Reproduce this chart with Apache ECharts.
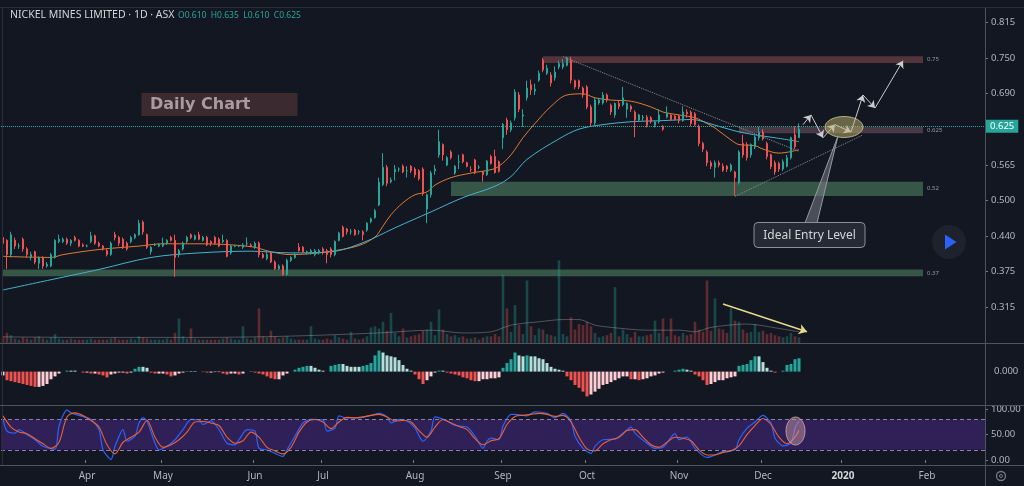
<!DOCTYPE html>
<html>
<head>
<meta charset="utf-8">
<title>NICKEL MINES LIMITED 1D ASX</title>
<script src="https://cdn.jsdelivr.net/npm/echarts@6/dist/echarts.min.js"></script>
<style>
    html, body { margin: 0; padding: 0; background: #131722; }
    #chart { width: 1024px; height: 486px; }
</style>
</head>
<body>
<div id="chart"></div>
<script>
// 月份 + 每月日线根数（含右侧留白的未来日期）
const monthSlots = [['Mar', 21], ['Apr', 19], ['May', 23], ['Jun', 17], ['Jul', 23], ['Aug', 22],
    ['Sep', 21], ['Oct', 23], ['Nov', 21], ['Dec', 20], ['2020', 21], ['Feb', 15]];

// 日线 [open, high, low, close]
const ohlc = [
    // Mar
    [0.435, 0.440, 0.420, 0.425], [0.430, 0.432, 0.380, 0.405], [0.405, 0.445, 0.400, 0.440], [0.430, 0.435, 0.415, 0.420],
    [0.420, 0.425, 0.415, 0.420], [0.432, 0.435, 0.410, 0.415], [0.415, 0.418, 0.400, 0.405], [0.400, 0.410, 0.395, 0.405],
    [0.410, 0.412, 0.388, 0.392], [0.390, 0.402, 0.380, 0.400], [0.400, 0.402, 0.380, 0.385], [0.385, 0.392, 0.382, 0.388],
    [0.385, 0.408, 0.383, 0.405], [0.400, 0.432, 0.398, 0.430], [0.428, 0.440, 0.425, 0.432], [0.428, 0.435, 0.425, 0.432],
    [0.432, 0.435, 0.422, 0.425], [0.425, 0.432, 0.420, 0.430], [0.435, 0.438, 0.428, 0.430], [0.430, 0.432, 0.418, 0.420],
    [0.422, 0.425, 0.418, 0.420],
    // Apr
    [0.420, 0.423, 0.418, 0.420], [0.428, 0.445, 0.425, 0.438], [0.438, 0.440, 0.422, 0.425], [0.425, 0.428, 0.418, 0.420],
    [0.420, 0.422, 0.412, 0.415], [0.412, 0.415, 0.402, 0.405], [0.405, 0.428, 0.403, 0.425], [0.440, 0.445, 0.430, 0.435],
    [0.435, 0.438, 0.420, 0.425], [0.432, 0.435, 0.415, 0.418], [0.425, 0.428, 0.412, 0.415], [0.428, 0.438, 0.425, 0.435],
    [0.435, 0.442, 0.432, 0.440], [0.440, 0.466, 0.438, 0.460], [0.462, 0.465, 0.440, 0.445], [0.440, 0.442, 0.415, 0.418],
    [0.410, 0.420, 0.405, 0.418], [0.422, 0.425, 0.420, 0.422], [0.420, 0.425, 0.418, 0.423],
    // May
    [0.420, 0.435, 0.418, 0.425], [0.425, 0.432, 0.422, 0.430], [0.435, 0.438, 0.428, 0.430], [0.430, 0.440, 0.366, 0.400],
    [0.405, 0.415, 0.400, 0.412], [0.415, 0.428, 0.412, 0.425], [0.428, 0.438, 0.425, 0.435], [0.440, 0.442, 0.432, 0.435],
    [0.432, 0.440, 0.430, 0.438], [0.440, 0.445, 0.430, 0.432], [0.430, 0.438, 0.428, 0.435], [0.435, 0.438, 0.420, 0.422],
    [0.428, 0.430, 0.420, 0.425], [0.435, 0.438, 0.422, 0.425], [0.432, 0.435, 0.418, 0.420], [0.428, 0.440, 0.425, 0.430],
    [0.430, 0.432, 0.400, 0.402], [0.408, 0.422, 0.405, 0.420], [0.420, 0.422, 0.418, 0.420], [0.420, 0.422, 0.418, 0.420],
    [0.418, 0.425, 0.415, 0.422], [0.425, 0.435, 0.420, 0.425], [0.422, 0.425, 0.418, 0.420],
    // Jun
    [0.418, 0.428, 0.415, 0.425], [0.425, 0.428, 0.400, 0.405], [0.405, 0.408, 0.398, 0.400], [0.398, 0.410, 0.395, 0.405],
    [0.408, 0.410, 0.390, 0.392], [0.392, 0.395, 0.378, 0.380], [0.380, 0.388, 0.378, 0.385], [0.385, 0.388, 0.368, 0.370],
    [0.370, 0.398, 0.368, 0.395], [0.395, 0.402, 0.392, 0.400], [0.400, 0.408, 0.398, 0.405], [0.418, 0.425, 0.410, 0.412],
    [0.418, 0.420, 0.408, 0.410], [0.410, 0.412, 0.405, 0.410], [0.408, 0.415, 0.405, 0.412], [0.405, 0.415, 0.402, 0.412],
    [0.408, 0.415, 0.405, 0.412],
    // Jul
    [0.415, 0.418, 0.405, 0.410], [0.412, 0.415, 0.390, 0.405], [0.415, 0.418, 0.400, 0.405], [0.405, 0.430, 0.402, 0.428],
    [0.430, 0.445, 0.428, 0.443], [0.453, 0.456, 0.435, 0.437], [0.450, 0.452, 0.440, 0.445], [0.445, 0.450, 0.440, 0.445],
    [0.448, 0.450, 0.438, 0.440], [0.445, 0.448, 0.440, 0.445], [0.445, 0.448, 0.430, 0.440], [0.448, 0.462, 0.445, 0.460],
    [0.463, 0.470, 0.460, 0.468], [0.470, 0.485, 0.468, 0.482], [0.492, 0.540, 0.490, 0.532], [0.528, 0.583, 0.525, 0.558],
    [0.558, 0.562, 0.525, 0.530], [0.533, 0.540, 0.530, 0.536], [0.550, 0.562, 0.535, 0.555], [0.555, 0.558, 0.550, 0.555],
    [0.560, 0.563, 0.548, 0.550], [0.552, 0.560, 0.540, 0.552], [0.560, 0.562, 0.548, 0.552],
    // Aug
    [0.555, 0.558, 0.540, 0.545], [0.552, 0.555, 0.535, 0.538], [0.555, 0.558, 0.508, 0.512], [0.485, 0.512, 0.460, 0.510],
    [0.510, 0.552, 0.505, 0.548], [0.552, 0.562, 0.545, 0.555], [0.580, 0.624, 0.575, 0.603], [0.598, 0.600, 0.570, 0.580],
    [0.562, 0.578, 0.560, 0.575], [0.585, 0.588, 0.572, 0.575], [0.548, 0.562, 0.545, 0.560], [0.568, 0.580, 0.555, 0.568],
    [0.580, 0.582, 0.565, 0.568], [0.566, 0.568, 0.558, 0.560], [0.554, 0.560, 0.550, 0.554], [0.571, 0.573, 0.546, 0.548],
    [0.558, 0.562, 0.555, 0.558], [0.550, 0.552, 0.533, 0.545], [0.545, 0.571, 0.543, 0.569], [0.577, 0.580, 0.563, 0.565],
    [0.577, 0.589, 0.547, 0.549], [0.568, 0.570, 0.549, 0.551],
    // Sep
    [0.610, 0.636, 0.590, 0.633], [0.641, 0.645, 0.615, 0.624], [0.624, 0.640, 0.620, 0.636], [0.645, 0.695, 0.640, 0.690],
    [0.685, 0.690, 0.655, 0.660], [0.648, 0.660, 0.629, 0.650], [0.680, 0.710, 0.675, 0.697], [0.703, 0.712, 0.685, 0.694],
    [0.692, 0.705, 0.685, 0.695], [0.711, 0.728, 0.708, 0.723], [0.746, 0.750, 0.725, 0.729], [0.723, 0.738, 0.720, 0.732],
    [0.720, 0.725, 0.700, 0.706], [0.715, 0.735, 0.710, 0.725], [0.734, 0.745, 0.730, 0.740], [0.734, 0.748, 0.730, 0.740],
    [0.737, 0.752, 0.735, 0.750], [0.746, 0.752, 0.705, 0.711], [0.710, 0.712, 0.695, 0.699], [0.710, 0.712, 0.695, 0.699],
    [0.697, 0.700, 0.680, 0.685],
    // Oct
    [0.699, 0.702, 0.660, 0.664], [0.664, 0.668, 0.630, 0.636], [0.636, 0.680, 0.632, 0.676], [0.671, 0.680, 0.668, 0.676],
    [0.671, 0.690, 0.668, 0.685], [0.685, 0.688, 0.672, 0.676], [0.667, 0.670, 0.650, 0.655], [0.650, 0.672, 0.645, 0.670],
    [0.670, 0.675, 0.660, 0.665], [0.668, 0.699, 0.665, 0.680], [0.660, 0.672, 0.645, 0.670], [0.665, 0.668, 0.655, 0.660],
    [0.655, 0.658, 0.611, 0.641], [0.641, 0.652, 0.638, 0.650], [0.645, 0.650, 0.640, 0.646], [0.646, 0.650, 0.628, 0.632],
    [0.645, 0.648, 0.635, 0.638], [0.632, 0.640, 0.628, 0.638], [0.638, 0.660, 0.635, 0.650], [0.630, 0.632, 0.622, 0.625],
    [0.646, 0.665, 0.644, 0.653], [0.650, 0.652, 0.640, 0.642], [0.648, 0.650, 0.640, 0.642],
    // Nov
    [0.648, 0.650, 0.635, 0.640], [0.640, 0.665, 0.638, 0.655], [0.655, 0.660, 0.645, 0.652], [0.655, 0.658, 0.630, 0.635],
    [0.652, 0.655, 0.630, 0.633], [0.630, 0.633, 0.595, 0.600], [0.600, 0.603, 0.585, 0.590], [0.585, 0.588, 0.560, 0.566],
    [0.566, 0.570, 0.555, 0.560], [0.558, 0.570, 0.540, 0.566], [0.566, 0.570, 0.558, 0.562], [0.560, 0.565, 0.550, 0.553],
    [0.560, 0.562, 0.550, 0.555], [0.553, 0.565, 0.550, 0.562], [0.550, 0.552, 0.508, 0.540], [0.531, 0.588, 0.528, 0.585],
    [0.600, 0.615, 0.575, 0.580], [0.598, 0.602, 0.570, 0.575], [0.580, 0.600, 0.575, 0.598], [0.594, 0.614, 0.590, 0.611],
    [0.610, 0.629, 0.605, 0.620],
    // Dec
    [0.620, 0.625, 0.605, 0.608], [0.600, 0.603, 0.572, 0.577], [0.580, 0.582, 0.555, 0.559], [0.566, 0.570, 0.545, 0.550],
    [0.565, 0.568, 0.550, 0.555], [0.555, 0.572, 0.552, 0.568], [0.560, 0.580, 0.558, 0.575], [0.575, 0.612, 0.572, 0.610],
    [0.615, 0.630, 0.590, 0.594], [0.610, 0.635, 0.610, 0.625]
];

// 成交量（百万股）
const volume = [
    0.6, 0.9, 0.7, 0.4, 0.3, 0.5, 0.4, 0.3, 0.5, 0.6, 0.4, 0.3, 0.5, 0.8, 0.4, 0.3, 0.3, 0.4, 0.3, 0.3, 0.3,
    0.3, 0.4, 0.3, 0.3, 0.3, 0.3, 0.4, 0.5, 0.3, 0.3, 0.3, 0.4, 0.3, 0.6, 0.5, 0.4, 0.3, 0.3, 0.3,
    0.3, 0.4, 0.3, 0.9, 2.2, 0.6, 0.4, 1.3, 0.4, 0.3, 0.3, 0.3, 0.3, 0.3, 0.3, 0.4, 0.5, 0.4, 0.3, 0.3, 1.5, 0.4, 0.3,
    0.5, 3.1, 0.6, 0.5, 1.1, 0.6, 0.4, 0.5, 0.6, 0.4, 0.3, 0.3, 0.3, 0.3, 1.5, 0.4, 0.3,
    0.3, 0.4, 0.3, 0.7, 0.5, 0.4, 0.3, 1.0, 0.4, 0.3, 0.4, 0.6, 1.4, 1.5, 1.3, 1.9, 1.1, 2.7, 0.9, 0.6, 1.3, 0.5, 0.6,
    0.7, 0.8, 1.1, 1.2, 1.9, 0.7, 3.0, 1.2, 0.8, 0.6, 0.7, 0.5, 0.6, 0.4, 0.4, 0.5, 0.3, 0.5, 0.6, 0.6, 0.8, 0.6,
    6.1, 3.1, 1.0, 3.4, 1.6, 0.8, 5.6, 1.5, 0.7, 1.3, 1.2, 0.8, 0.7, 0.6, 7.4, 0.8, 0.6, 2.3, 1.2, 1.7, 1.6,
    1.9, 1.5, 0.9, 0.5, 0.6, 0.7, 0.9, 5.0, 0.6, 1.2, 0.8, 0.5, 1.0, 0.6, 0.6, 0.7, 0.8, 2.0, 0.9, 2.2, 0.6, 2.2, 0.7,
    0.6, 0.9, 0.7, 0.8, 1.9, 1.2, 1.0, 5.6, 1.1, 4.0, 1.3, 1.2, 0.9, 3.1, 2.0, 1.9, 1.2, 0.9, 1.0, 1.7, 1.0,
    1.1, 0.8, 0.9, 0.7, 0.6, 0.5, 0.6, 0.9, 0.6, 0.5
];
// 成交量均线 [index, value]
const volumeMa = [[0, 0.55], [20, 0.5], [49, 0.5], [70, 0.6], [94, 0.9], [107, 1.15], [115, 0.9], [122, 1.0],
    [127, 1.6], [134, 1.9], [140, 2.1], [144, 2.1], [148, 1.6], [152, 1.4], [161, 1.15], [169, 1.15], [173, 1.0],
    [177, 1.4], [186, 1.7], [194, 1.3], [199, 1.0]];

// 均线 [index, price]
const emaFast = [[0, 0.402], [12, 0.400], [15, 0.405], [24, 0.414], [34, 0.420], [40, 0.424], [49, 0.424],
    [62, 0.419], [67, 0.410], [72, 0.405], [79, 0.408], [83, 0.412], [89, 0.421], [93, 0.436], [95, 0.455],
    [97, 0.475], [100, 0.496], [103, 0.510], [106, 0.515], [108, 0.527], [112, 0.540], [117, 0.548], [122, 0.554],
    [124, 0.560], [127, 0.580], [130, 0.610], [133, 0.635], [137, 0.665], [141, 0.685], [145, 0.687], [148, 0.680],
    [152, 0.676], [157, 0.674], [162, 0.664], [165, 0.655], [169, 0.650], [173, 0.645], [176, 0.635], [178, 0.627],
    [182, 0.606], [184, 0.598], [188, 0.596], [190, 0.590], [194, 0.583], [199, 0.589]];
const emaSlow = [[0, 0.343], [12, 0.361], [24, 0.379], [37, 0.400], [49, 0.408], [62, 0.411], [72, 0.408],
    [82, 0.410], [90, 0.426], [98, 0.452], [107, 0.480], [115, 0.505], [123, 0.525], [127, 0.542], [131, 0.572],
    [139, 0.608], [144, 0.625], [150, 0.633], [157, 0.638], [165, 0.640], [172, 0.642], [178, 0.632], [183, 0.622],
    [188, 0.615], [193, 0.610], [199, 0.603]];

// MACD 柱（千分之一）
const macdHist = [
    -4, -9, -10, -11, -12, -13, -14, -15, -16, -16, -15, -13, -8, -5, -2,
    0, 1, 1, 1, 0,
    -1, -1, -2, -2, -3, -4, -6, -3, -2, -1, -1, -2, -1,
    3, 5, 5, 4,
    -1, -2, -2, -2, -3, -5, -4, -2, -1,
    0.5, 0.5, 0.5, 0,
    -0.5, -1, -1, -0.5, -0.5,
    -2, -3, -2, -2, -3, -2,
    0, 0.5,
    -1, -2, -3, -5, -7, -8, -8, -4, -2,
    0, 2, 4, 5, 6, 6, 4, 2, 1, 0,
    6, 7, 8, 8, 6, 5, 5, 5, 6,
    7, 9, 17, 22, 20, 17, 16, 15, 12, 7, 3, 1,
    -3, -8, -13, -9, -5, -1,
    1, 1,
    -1, -2, -3, -4, -6, -7, -9, -10, -10, -8, -8, -7, -7, -6,
    4, 9, 13, 20, 17, 16, 17, 16, 16, 14, 13, 9, 5, 3, 2, 1,
    -5, -9, -14, -17, -21, -26, -24, -21, -18, -14, -13, -11, -9, -7, -5, -5, -8, -8, -9, -8, -7, -5, -4, -2, -1,
    0, 0,
    1, 2, 3, 2, 1,
    -3, -5, -9, -14, -13, -11, -9, -9, -7, -6, -5,
    6, 7, 8, 12, 16, 16, 10, 4,
    1, -1, 0, 1,
    7, 8, 13, 14
];

// 随机指标 %K / %D [index, value]
const stochK = [[0, 80], [1, 57], [3, 53], [4, 60], [6, 50], [8, 40], [10, 27], [13, 21], [14, 67], [16, 99],
    [17, 93], [19, 88], [22, 80], [24, 60], [25, 20], [27, 1], [28, 27], [30, 60], [31, 37], [33, 47], [34, 73],
    [35, 83], [36, 77], [38, 33], [39, 20], [41, 27], [43, 40], [45, 60], [47, 80], [49, 79], [50, 70], [52, 77],
    [54, 60], [56, 33], [58, 30], [59, 40], [61, 60], [63, 57], [64, 23], [66, 20], [68, 13], [70, 7], [71, 20],
    [73, 47], [75, 73], [77, 80], [80, 79], [81, 57], [83, 63], [84, 87], [86, 83], [89, 83], [92, 88], [94, 92],
    [96, 85], [97, 73], [99, 80], [101, 77], [103, 63], [105, 37], [107, 57], [108, 85], [111, 77], [113, 68],
    [116, 65], [118, 47], [120, 23], [121, 37], [122, 43], [124, 40], [125, 67], [127, 90], [128, 90], [131, 87],
    [133, 95], [136, 92], [138, 83], [140, 92], [142, 77], [143, 47], [145, 23], [147, 13], [148, 27], [150, 40],
    [153, 41], [155, 53], [157, 65], [158, 53], [161, 33], [163, 23], [165, 25], [168, 52], [169, 40], [171, 45],
    [173, 23], [176, 5], [178, 10], [180, 17], [183, 20], [184, 40], [186, 63], [188, 75], [190, 88], [192, 73],
    [193, 43], [195, 28], [197, 33], [198, 63], [199, 77]];
const stochD = [[0, 87], [2, 65], [4, 55], [6, 52], [8, 42], [10, 32], [12, 23], [14, 35], [16, 85], [18, 93],
    [20, 88], [22, 78], [24, 65], [26, 30], [28, 12], [30, 35], [32, 45], [34, 55], [36, 78], [38, 45], [40, 25],
    [42, 30], [44, 40], [46, 55], [48, 75], [50, 76], [52, 73], [54, 68], [56, 45], [58, 33], [60, 38], [62, 55],
    [64, 45], [66, 25], [68, 18], [70, 12], [72, 25], [74, 55], [76, 75], [78, 80], [80, 75], [82, 62], [84, 75],
    [86, 84], [88, 83], [90, 85], [92, 88], [94, 90], [96, 85], [98, 77], [100, 78], [102, 75], [104, 58],
    [106, 45], [108, 65], [110, 80], [112, 73], [114, 66], [116, 60], [118, 42], [120, 30], [122, 38], [124, 42],
    [126, 70], [128, 86], [130, 88], [132, 90], [134, 92], [136, 90], [138, 86], [140, 88], [142, 75], [144, 45],
    [146, 22], [148, 18], [150, 32], [152, 40], [154, 45], [156, 58], [158, 60], [160, 45], [162, 30], [164, 25],
    [166, 35], [168, 45], [170, 43], [172, 38], [174, 20], [176, 10], [178, 10], [180, 15], [182, 18], [184, 28],
    [186, 50], [188, 68], [190, 82], [192, 70], [194, 45], [196, 32], [198, 45], [199, 58]];

// 预期走势路径 [index, price]
const pathPoints = [[200, 0.633], [202, 0.650], [205, 0.610], [208, 0.633], [212, 0.620], [215, 0.685],
    [218, 0.662], [225, 0.745]];

const upColor = '#26a69a';
const downColor = '#ef5350';
const bgColor = '#131722';
const font = '"Noto Sans", "DejaVu Sans", sans-serif';

// x 轴类目
const categories = [];
monthSlots.forEach(function (m) {
    for (let k = 0; k < m[1]; k++) {
        categories.push(k === 0 ? m[0] : m[0] + '-' + k);
    }
});
function isMonthStart(index) {
    return index > 0 && categories[index].indexOf('-') < 0;
}

// 价格轴刻度：按 0.005 取整
function priceLabel(v) {
    return (Math.round(v / 0.005 + 1e-6) * 0.005).toFixed(3);
}

const candleData = ohlc.map(function (r) { return [r[0], r[3], r[2], r[1]]; });

const volumeData = volume.map(function (v, i) {
    const up = ohlc[i][3] >= ohlc[i][0];
    return { value: v, itemStyle: { color: up ? 'rgba(38,166,154,0.34)' : 'rgba(239,83,80,0.34)' } };
});

const macdData = macdHist.map(function (v, i) {
    const prev = i > 0 ? macdHist[i - 1] : v - 1;
    let color;
    if (v >= 0) color = v > prev ? '#26a69a' : '#b2dfdb';
    else color = v < prev ? '#ef5350' : '#ffcdd2';
    return { value: v, itemStyle: { color: color } };
});

// 路径箭头（每段末端带箭头）
const pathSegments = [];
for (let i = 1; i < pathPoints.length; i++) {
    pathSegments.push([
        { coord: pathPoints[i - 1], symbol: 'none', lineStyle: { color: '#c9cbd1', width: 1, type: 'solid' } },
        { coord: pathPoints[i], symbol: 'arrow', symbolSize: 7 }
    ]);
}

function hiddenX(gridIndex) {
    return {
        type: 'category', gridIndex: gridIndex, data: categories, boundaryGap: true,
        axisLine: { show: false }, axisTick: { show: false }, axisLabel: { show: false }, splitLine: { show: false }
    };
}

function zoneLabel(text) {
    return { show: true, position: 'right', distance: 4, formatter: text, color: '#9598a1', fontSize: 6 };
}

let myChart = echarts.init(document.getElementById('chart'));

option = {
    backgroundColor: bgColor,
    animation: false,
    textStyle: { fontFamily: font },
    grid: [
        { left: 1, right: 39, top: 8, height: 335 },
        { left: 1, right: 39, top: 343, height: 62 },
        { left: 1, right: 39, top: 409.3, height: 50.7 }
    ],
    xAxis: [
        hiddenX(0),
        hiddenX(1),
        {
            type: 'category', gridIndex: 2, data: categories, boundaryGap: true, offset: 5,
            axisLine: { show: false },
            axisTick: { show: true, length: 3, interval: isMonthStart, lineStyle: { color: '#787b86' } },
            axisLabel: {
                interval: isMonthStart, margin: 6, color: '#b2b5be', fontSize: 10,
                formatter: function (v) { return v === '2020' ? '{b|2020}' : v; },
                rich: { b: { fontWeight: 'bold', color: '#d1d4dc', fontSize: 10 } }
            },
            splitLine: { show: false }
        }
    ],
    yAxis: [
        {
            type: 'value', gridIndex: 0, position: 'right', min: 0.25, max: 0.8375, interval: 0.0625,
            axisLine: { show: false },
            axisTick: { show: true, length: 3, lineStyle: { color: '#787b86' } },
            axisLabel: {
                color: '#b2b5be', fontSize: 9.5, margin: 6, showMinLabel: false, showMaxLabel: false,
                formatter: priceLabel
            },
            splitLine: { show: false }
        },
        { type: 'value', gridIndex: 0, min: 0, max: 30, show: false },
        {
            type: 'value', gridIndex: 1, position: 'right', min: -35, max: 30, interval: 35,
            axisLine: { show: false }, axisTick: { show: false },
            axisLabel: {
                color: '#b2b5be', fontSize: 9.5, margin: 9, showMinLabel: false,
                formatter: function (v) { return v === 0 ? '0.000' : ''; }
            },
            splitLine: { show: false }
        },
        {
            type: 'value', gridIndex: 2, position: 'right', min: 0, max: 100, interval: 50,
            axisLine: { show: false },
            axisTick: { show: true, length: 3, lineStyle: { color: '#787b86' } },
            axisLabel: { color: '#b2b5be', fontSize: 9.5, margin: 6, formatter: function (v) { return v.toFixed(2); } },
            splitLine: { show: false }
        }
    ],
    series: [
        {
            name: 'Volume', type: 'bar', xAxisIndex: 0, yAxisIndex: 1, barWidth: 2.6, z: 1,
            data: volumeData,
            markLine: {
                silent: true, symbol: ['none', 'arrow'], symbolSize: 8,
                label: { show: false },
                lineStyle: { color: '#e6d98a', width: 1.5, type: 'solid' },
                data: [[{ coord: [180, 3.5] }, { coord: [201, 1.0] }]]
            }
        },
        {
            name: 'Vol MA', type: 'line', xAxisIndex: 0, yAxisIndex: 1, data: volumeMa, symbol: 'none', z: 1,
            smooth: 0.3, lineStyle: { color: 'rgba(170,172,182,0.4)', width: 1 }
        },
        {
            name: 'NICKEL MINES', type: 'candlestick', xAxisIndex: 0, yAxisIndex: 0, z: 3,
            barWidth: 2.2,
            itemStyle: {
                color: upColor, color0: downColor, borderColor: upColor, borderColor0: downColor, borderWidth: 1
            },
            data: candleData,
            markArea: {
                silent: true,
                data: [
                    [{ coord: [135, 0.741], itemStyle: { color: 'rgba(140,75,80,0.55)' }, label: zoneLabel('0.75') },
                        { coord: [230, 0.753] }],
                    [{ coord: [184, 0.618], itemStyle: { color: 'rgba(135,100,112,0.45)' }, label: zoneLabel('0.625') },
                        { coord: [230, 0.629] }],
                    [{ coord: [112, 0.508], itemStyle: { color: 'rgba(90,150,110,0.5)' }, label: zoneLabel('0.52') },
                        { coord: [230, 0.533] }],
                    [{ coord: [0, 0.367], itemStyle: { color: 'rgba(90,150,110,0.5)' }, label: zoneLabel('0.37') },
                        { coord: [230, 0.379] }]
                ]
            },
            markLine: {
                silent: true, symbol: 'none',
                label: { show: false },
                data: [
                    {
                        yAxis: 0.625, symbol: 'none',
                        lineStyle: { color: upColor, type: 'dotted', width: 1 },
                        label: {
                            show: true, position: 'end', distance: 1, formatter: '0.625', color: '#ffffff',
                            backgroundColor: upColor, padding: [2, 4, 1, 4], fontSize: 9.5
                        }
                    },
                    [{ coord: [140, 0.752], lineStyle: { color: '#8a8d96', type: 'dotted', width: 1 } },
                        { coord: [199, 0.586] }],
                    [{ coord: [183, 0.507], lineStyle: { color: '#8a8d96', type: 'dotted', width: 1 } },
                        { coord: [215, 0.615] }]
                ].concat(pathSegments)
            }
        },
        {
            name: 'EMA fast', type: 'line', xAxisIndex: 0, yAxisIndex: 0, data: emaFast, symbol: 'none', z: 2,
            smooth: 0.35, lineStyle: { color: '#e07a30', width: 1 }
        },
        {
            name: 'EMA slow', type: 'line', xAxisIndex: 0, yAxisIndex: 0, data: emaSlow, symbol: 'none', z: 2,
            smooth: 0.35, lineStyle: { color: '#45b2cc', width: 1 }
        },
        {
            name: 'MACD', type: 'bar', xAxisIndex: 1, yAxisIndex: 2, barWidth: 3, data: macdData
        },
        {
            name: '%K', type: 'line', xAxisIndex: 2, yAxisIndex: 3, data: stochK, symbol: 'none', z: 3,
            smooth: 0.25, lineStyle: { color: '#2962ff', width: 1.2 },
            markArea: {
                silent: true,
                itemStyle: { color: 'rgba(100,50,190,0.35)' },
                data: [[{ yAxis: 20 }, { yAxis: 80 }]]
            },
            markLine: {
                silent: true, symbol: 'none', label: { show: false },
                lineStyle: { color: '#8e7fb0', type: [4, 3], width: 1 },
                data: [{ yAxis: 80 }, { yAxis: 20 }]
            }
        },
        {
            name: '%D', type: 'line', xAxisIndex: 2, yAxisIndex: 3, data: stochD, symbol: 'none', z: 3,
            smooth: 0.3, lineStyle: { color: '#f0602f', width: 1.1 }
        }
    ],
    graphic: [
        // 面板分隔线与边框
        { type: 'line', z: 90, shape: { x1: 0, y1: 7.5, x2: 1024, y2: 7.5 }, style: { stroke: '#2a2e39', lineWidth: 1 } },
        { type: 'line', z: 90, shape: { x1: 2.5, y1: 8, x2: 2.5, y2: 465 }, style: { stroke: '#2a2e39', lineWidth: 1 } },
        { type: 'line', z: 90, shape: { x1: 0, y1: 343.5, x2: 1024, y2: 343.5 }, style: { stroke: '#50535e', lineWidth: 1 } },
        { type: 'line', z: 90, shape: { x1: 0, y1: 405.5, x2: 1024, y2: 405.5 }, style: { stroke: '#50535e', lineWidth: 1 } },
        { type: 'line', z: 90, shape: { x1: 0, y1: 465.5, x2: 1024, y2: 465.5 }, style: { stroke: '#50535e', lineWidth: 1 } },
        { type: 'line', z: 90, shape: { x1: 985.5, y1: 8, x2: 985.5, y2: 486 }, style: { stroke: '#50535e', lineWidth: 1 } },
        // 标题
        {
            type: 'text', x: 10, y: 15, z: 100,
            style: { text: 'NICKEL MINES LIMITED · 1D · ASX', fill: '#d1d4dc', font: '10.5px ' + font, verticalAlign: 'middle' }
        },
        {
            type: 'text', x: 178, y: 15.5, z: 100,
            style: { text: 'O0.610  H0.635  L0.610  C0.625', fill: upColor, font: '8.5px ' + font, verticalAlign: 'middle' }
        },
        // Daily Chart 标签
        { type: 'rect', z: 50, shape: { x: 141.5, y: 93, width: 156, height: 23 }, style: { fill: '#3b2a30' } },
        {
            type: 'text', x: 150, y: 105, z: 51,
            style: { text: 'Daily Chart', fill: '#a89c9f', font: 'bold 16px "DejaVu Sans", sans-serif', verticalAlign: 'middle' }
        },
        // 入场区域椭圆 + 标注
        {
            type: 'ellipse', z: 100, shape: { cx: 844, cy: 127, rx: 19, ry: 10.5 },
            style: { fill: 'rgba(190,180,110,0.5)', stroke: 'rgba(220,210,150,0.75)', lineWidth: 1 }
        },
        {
            type: 'polygon', z: 100, shape: { points: [[805, 223], [817, 223], [838, 136]] },
            style: { fill: 'rgba(120,123,134,0.55)', stroke: '#9598a1', lineWidth: 1 }
        },
        {
            type: 'rect', z: 101, shape: { x: 754, y: 222.5, width: 111, height: 25, r: 4 },
            style: { fill: '#262a35', stroke: '#8c8f99', lineWidth: 1 }
        },
        {
            type: 'text', x: 809.5, y: 235.5, z: 102,
            style: { text: 'Ideal Entry Level', fill: '#d1d4dc', font: '12px ' + font, align: 'center', verticalAlign: 'middle' }
        },
        // 随机指标椭圆
        {
            type: 'ellipse', z: 100, shape: { cx: 795.5, cy: 431, rx: 9.5, ry: 14 },
            style: { fill: 'rgba(200,150,160,0.5)', stroke: 'rgba(230,180,190,0.7)', lineWidth: 1 }
        },
        // 播放按钮
        { type: 'circle', z: 100, shape: { cx: 949, cy: 242, r: 17 }, style: { fill: '#1e222d' } },
        { type: 'polygon', z: 101, shape: { points: [[945, 234.5], [945, 249.5], [956.5, 242]] }, style: { fill: '#2962ff' } },
        // 设置图标
        { type: 'circle', z: 100, shape: { cx: 1001, cy: 476, r: 4.5 }, style: { fill: 'none', stroke: '#787b86', lineWidth: 1.3 } },
        { type: 'circle', z: 100, shape: { cx: 1001, cy: 476, r: 1.5 }, style: { fill: 'none', stroke: '#787b86', lineWidth: 1 } }
    ]
};

myChart.setOption(option);
</script>
</body>
</html>
